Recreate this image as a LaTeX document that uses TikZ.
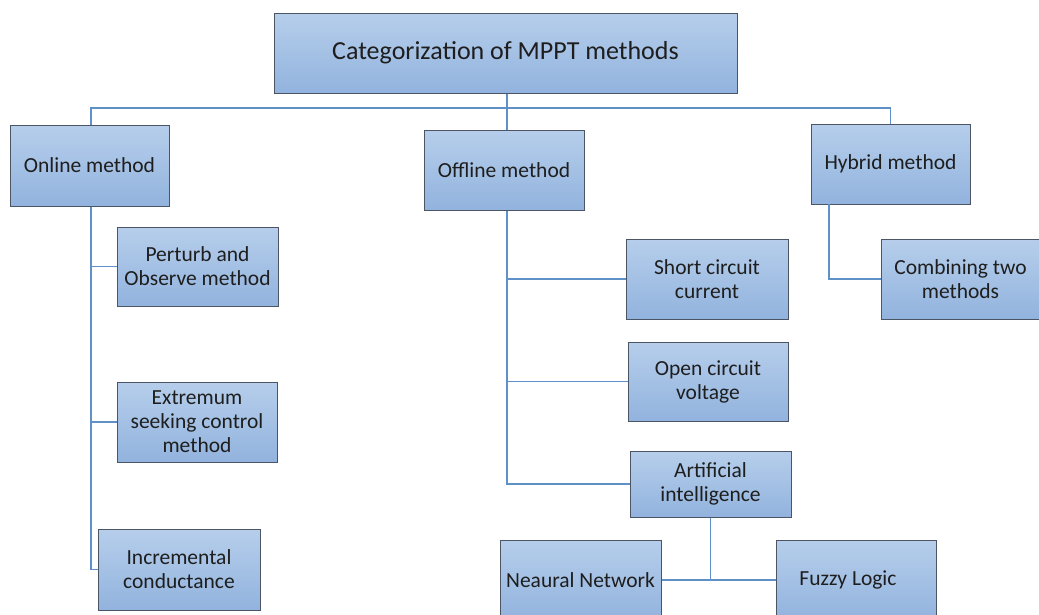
\documentclass[tikz,border=0pt]{standalone}
\usepackage{fontspec}
\setmainfont{Carlito}
\definecolor{boxtop}{RGB}{182,206,235}
\definecolor{boxbot}{RGB}{146,179,222}
\definecolor{boxline}{RGB}{75,85,100}
\definecolor{conn}{RGB}{95,145,200}
\definecolor{txt}{RGB}{30,30,30}
\tikzset{
  catbox/.style={draw=boxline, line width=1pt, top color=boxtop, bottom color=boxbot,
    rectangle, align=center, text=txt, inner sep=1pt, font=\fontsize{21.5}{24}\selectfont},
  link/.style={draw=conn, line width=1.6pt}
}
\begin{document}
\begin{tikzpicture}[x=1pt,y=-1pt]
\useasboundingbox (0,0) rectangle (1039,614);
\clip (0,0) rectangle (1039,614);
\node[catbox, minimum width=463pt, minimum height=80pt, font=\fontsize{26}{30}\selectfont] (top) at (505.5,53) {Categorization of MPPT methods};
\node[catbox, minimum width=159pt, minimum height=81pt] (online) at (89.5,165.5) {Online method};
\node[catbox, minimum width=161pt, minimum height=79pt] (perturb) at (197.5,266.5) {Perturb and\\Observe method};
\node[catbox, minimum width=160pt, minimum height=80pt] (extremum) at (197,422) {Extremum\\seeking control\\method};
\node[catbox, minimum width=162pt, minimum height=81pt] (incr) at (179,569.5) {Incremental\\conductance};
\node[catbox, minimum width=160pt, minimum height=80pt] (offline) at (504,170) {Offline method};
\node[catbox, minimum width=162pt, minimum height=80pt] (short) at (707,279) {Short circuit\\current};
\node[catbox, minimum width=160pt, minimum height=79pt] (open) at (708,381.5) {Open circuit\\voltage};
\node[catbox, minimum width=161pt, minimum height=66pt] (ai) at (710.5,484) {Artificial\\intelligence};
\node[catbox, minimum width=161pt, minimum height=80pt] (nn) at (580.5,580) {Neaural Network};
\node[catbox, minimum width=160pt, minimum height=80pt] (fuzzy) at (856,580) {\hspace*{-16pt}Fuzzy Logic};
\node[catbox, minimum width=159pt, minimum height=80pt] (hybrid) at (890.5,164) {Hybrid method};
\node[catbox, minimum width=159pt, minimum height=80pt] (comb) at (960.5,279) {Combining two\\methods};
\coordinate (bus) at (507,108);
\coordinate (onx) at (91,108);
\coordinate (hyb) at (829,204);
\draw[link] (top.south -| bus) -- (bus);
\draw[link] (onx |- online.north) |- (hybrid.north |- bus) -- (hybrid.north);
\draw[link] (bus) -- (offline.north -| bus);
\draw[link] (onx |- online.south) |- (incr.west);
\draw[link] (onx |- perturb.west) -- (perturb.west);
\draw[link] (onx |- extremum.west) -- (extremum.west);
\draw[link] (offline.south -| bus) |- (ai.west);
\draw[link] (bus |- short.west) -- (short.west);
\draw[link] (bus |- open.west) -- (open.west);
\draw[link] (ai.south) |- (nn.east);
\draw[link] (ai.south) |- (fuzzy.west);
\draw[link] (hyb) |- (comb.west);
\end{tikzpicture}
\end{document}
